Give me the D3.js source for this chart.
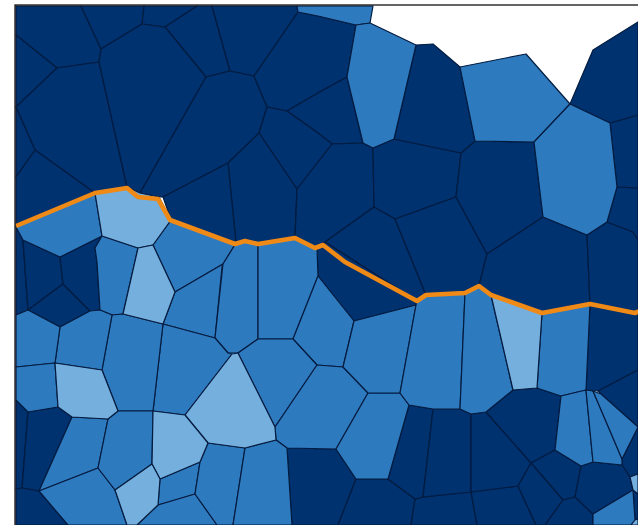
<!DOCTYPE html>
<html>
<head>
<meta charset="utf-8">
<script src="https://d3js.org/d3.v7.min.js"></script>
<style>
    html, body { margin: 0; padding: 0; background: #fff; overflow: hidden; }
    .cell { stroke: #051c40; stroke-width: 1.2px; stroke-linejoin: round; }
    .boundary { fill: none; stroke: #f08a16; stroke-width: 4.6px; stroke-linejoin: round; }
    .frame { fill: none; stroke: #111; stroke-width: 1.3px; }
</style>
</head>
<body>
<svg id="map1" width="638" height="525"></svg>
<script>
// map units
const darkCells = [
    [[16,6],[81,6],[101,49],[99,62],[57,68],[16,35]],
    [[81,6],[144,6],[142,24],[101,49]],
    [[144,6],[197,6],[165,27],[142,24]],
    [[197,6],[212,6],[230,71],[206,77],[165,27]],
    [[212,6],[297,6],[298,12],[254,76],[230,71]],
    [[16,35],[57,68],[16,107]],
    [[57,68],[99,62],[127,187],[95,193],[35,150],[16,107]],
    [[16,107],[35,150],[16,177]],
    [[16,177],[35,150],[95,193],[16,227]],
    [[101,49],[142,24],[165,27],[206,77],[140,193],[127,187],[99,62]],
    [[206,77],[230,71],[254,76],[267,107],[259,133],[228,163],[163,197],[159,197],[140,193]],
    [[298,12],[318,16],[356,25],[347,77],[318,93],[287,111],[267,107],[254,76]],
    [[287,111],[318,93],[347,77],[363,143],[332,144],[318,133]],
    [[267,107],[287,111],[318,133],[332,144],[297,189],[259,133]],
    [[228,163],[259,133],[297,189],[295,238],[258,243],[245,240],[236,243]],
    [[163,197],[228,163],[236,243],[171,220]],
    [[297,189],[332,144],[363,143],[373,148],[374,207],[325,242],[317,248],[295,238]],
    [[373,148],[394,139],[461,153],[456,197],[395,219],[374,207]],
    [[325,242],[374,207],[395,219],[413,263],[426,295],[417,301]],
    [[395,219],[456,197],[487,254],[479,286],[465,293],[426,295],[413,263]],
    [[461,153],[475,141],[534,142],[543,217],[487,254],[456,197]],
    [[487,254],[543,217],[587,235],[590,304],[542,313],[491,295],[479,286]],
    [[587,235],[607,222],[633,232],[638,240],[638,313],[590,304]],
    [[607,222],[617,187],[638,188],[638,240],[633,232]],
    [[610,123],[638,115],[638,188],[617,187]],
    [[570,104],[593,50],[638,22],[638,115],[610,123]],
    [[416,45],[433,44],[460,67],[475,141],[461,153],[394,139]],
    [[317,248],[325,242],[417,301],[416,305],[354,321],[318,276]],
    [[16,227],[23,240],[28,310],[16,315]],
    [[23,240],[60,257],[63,284],[28,310]],
    [[28,310],[63,284],[90,311],[60,327]],
    [[60,257],[102,236],[95,248],[97,262],[100,310],[90,311],[63,284]],
    [[16,400],[28,412],[22,488],[16,489]],
    [[28,412],[58,407],[72,417],[39,491],[22,488]],
    [[16,489],[22,488],[39,491],[68,525],[16,525]],
    [[287,448],[336,449],[356,479],[338,525],[292,525]],
    [[356,479],[388,479],[415,499],[411,525],[338,525]],
    [[415,499],[423,497],[471,492],[477,525],[411,525]],
    [[471,492],[518,486],[536,525],[477,525]],
    [[409,405],[433,409],[423,497],[415,499],[388,479]],
    [[433,409],[460,409],[471,414],[471,492],[423,497]],
    [[471,414],[486,412],[531,463],[518,486],[471,492]],
    [[513,390],[537,388],[561,396],[555,450],[531,463],[486,412]],
    [[590,304],[638,313],[638,370],[598,391],[586,390]],
    [[598,391],[638,370],[638,427],[601,394]],
    [[622,459],[638,427],[638,474],[630,477],[622,465]],
    [[555,450],[581,466],[575,497],[563,500],[531,463]],
    [[531,463],[563,500],[545,525],[536,525],[518,486]],
    [[563,500],[575,497],[593,514],[593,525],[545,525]],
    [[581,466],[593,462],[622,465],[630,477],[633,490],[593,514],[575,497]],
    [[633,490],[638,494],[638,519],[635,520]]
];

const midCells = [
    [[297,6],[373,6],[370,23],[356,25],[318,16],[298,12]],
    [[356,25],[370,23],[416,45],[394,139],[373,148],[363,143],[347,77]],
    [[460,67],[526,54],[570,104],[534,142],[475,141]],
    [[534,142],[570,104],[610,123],[617,187],[607,222],[587,235],[543,217]],
    [[16,227],[95,193],[102,236],[60,257],[23,240]],
    [[102,236],[138,248],[123,314],[112,315],[100,310],[97,262],[95,248]],
    [[171,220],[236,243],[223,264],[175,292],[153,245]],
    [[223,264],[175,292],[163,324],[215,338],[222,267]],
    [[236,243],[245,240],[258,243],[258,339],[238,353],[228,353],[215,338],[223,264]],
    [[258,243],[295,238],[317,248],[318,276],[293,339],[258,339]],
    [[318,276],[354,321],[343,367],[317,365],[293,339]],
    [[258,339],[293,339],[317,365],[275,427],[238,353]],
    [[317,365],[343,367],[368,393],[336,449],[287,448],[276,440],[275,427]],
    [[368,393],[400,393],[409,405],[388,479],[356,479],[336,449]],
    [[354,321],[416,305],[400,393],[368,393],[343,367]],
    [[416,305],[417,301],[426,295],[465,293],[460,409],[433,409],[409,405],[400,393]],
    [[465,293],[479,286],[491,295],[513,390],[486,412],[471,414],[460,409]],
    [[542,313],[590,304],[586,390],[561,396],[537,388]],
    [[561,396],[586,390],[593,462],[581,466],[555,450]],
    [[586,390],[593,391],[622,459],[622,465],[593,462]],
    [[593,391],[601,394],[638,427],[622,459]],
    [[593,514],[633,490],[635,520],[631,525],[593,525]],
    [[163,324],[215,338],[228,353],[232,354],[185,415],[153,411]],
    [[112,315],[123,314],[163,324],[153,411],[118,411],[102,370]],
    [[60,327],[90,311],[100,310],[112,315],[102,370],[55,363]],
    [[28,310],[60,327],[55,363],[16,367],[16,315]],
    [[16,367],[55,363],[58,407],[28,412],[16,400]],
    [[39,491],[72,417],[108,419],[98,468]],
    [[39,491],[98,468],[115,490],[127,525],[68,525]],
    [[118,411],[153,411],[152,464],[115,490],[98,468],[108,419]],
    [[160,479],[200,462],[195,494],[158,505]],
    [[158,505],[195,494],[217,525],[137,525]],
    [[208,443],[200,462],[195,494],[217,525],[233,525],[245,448]],
    [[245,448],[276,440],[287,448],[292,525],[233,525]]
];

const lightCells = [
    [[95,193],[127,187],[140,193],[159,197],[171,220],[153,245],[138,248],[102,236]],
    [[138,248],[153,245],[175,292],[163,324],[123,314]],
    [[55,363],[102,370],[118,411],[108,419],[72,417],[58,407]],
    [[232,354],[238,353],[275,427],[276,440],[245,448],[208,443],[185,415]],
    [[153,411],[185,415],[208,443],[200,462],[160,479],[152,464]],
    [[115,490],[152,464],[160,479],[158,505],[137,525],[127,525]],
    [[491,295],[542,313],[537,388],[513,390]],
    [[630,477],[638,474],[638,494],[633,490]],
    [[631,525],[635,520],[638,519],[638,525]]
];

const boundaryLine = [[16,226],[95,193],[127,188],[138,197],[158,199],[170,220],[235,244],[245,241],[258,244],[295,238],[315,248],[323,245],[345,262],[417,301],[426,295],[465,293],[479,286],[491,295],[542,313],[590,304],[635,313],[640,311]];

const classNames = ["dark", "mid", "light"];
const classColors = ["#05306f", "#2f7abf", "#74afdd"];

const svg = d3.select("#map1");
const width = +svg.attr("width");
const height = +svg.attr("height");
const margin = {top: 5, left: 15};

const x = d3.scaleLinear().domain([0, 638]).range([0, width]);
const y = d3.scaleLinear().domain([0, 525]).range([0, height]);
const color = d3.scaleOrdinal().domain(classNames).range(classColors);
const path = d3.line().x(d => x(d[0])).y(d => y(d[1]));

// image looks slightly soft, like a resized screenshot
const defs = svg.append("defs");
defs.append("filter").attr("id", "soft")
    .append("feGaussianBlur").attr("stdDeviation", 0.4);
defs.append("clipPath").attr("id", "plot").append("rect")
    .attr("x", margin.left).attr("y", margin.top)
    .attr("width", width - margin.left + 5).attr("height", height - margin.top + 5);

const map = svg.append("g").attr("filter", "url(#soft)");
const cells = map.append("g").attr("clip-path", "url(#plot)");

[[classNames[0], darkCells], [classNames[1], midCells], [classNames[2], lightCells]].forEach(([name, polys]) => {
    cells.selectAll("path." + name).data(polys)
        .join("path")
        .attr("class", "cell " + name)
        .attr("fill", color(name))
        .attr("d", d => path(d) + "Z");
});

cells.append("path").datum(boundaryLine)
    .attr("class", "boundary")
    .attr("d", path);

map.append("rect")
    .attr("class", "frame")
    .attr("x", margin.left).attr("y", margin.top)
    .attr("width", width - margin.left + 5).attr("height", height - margin.top + 5);
</script>
</body>
</html>
